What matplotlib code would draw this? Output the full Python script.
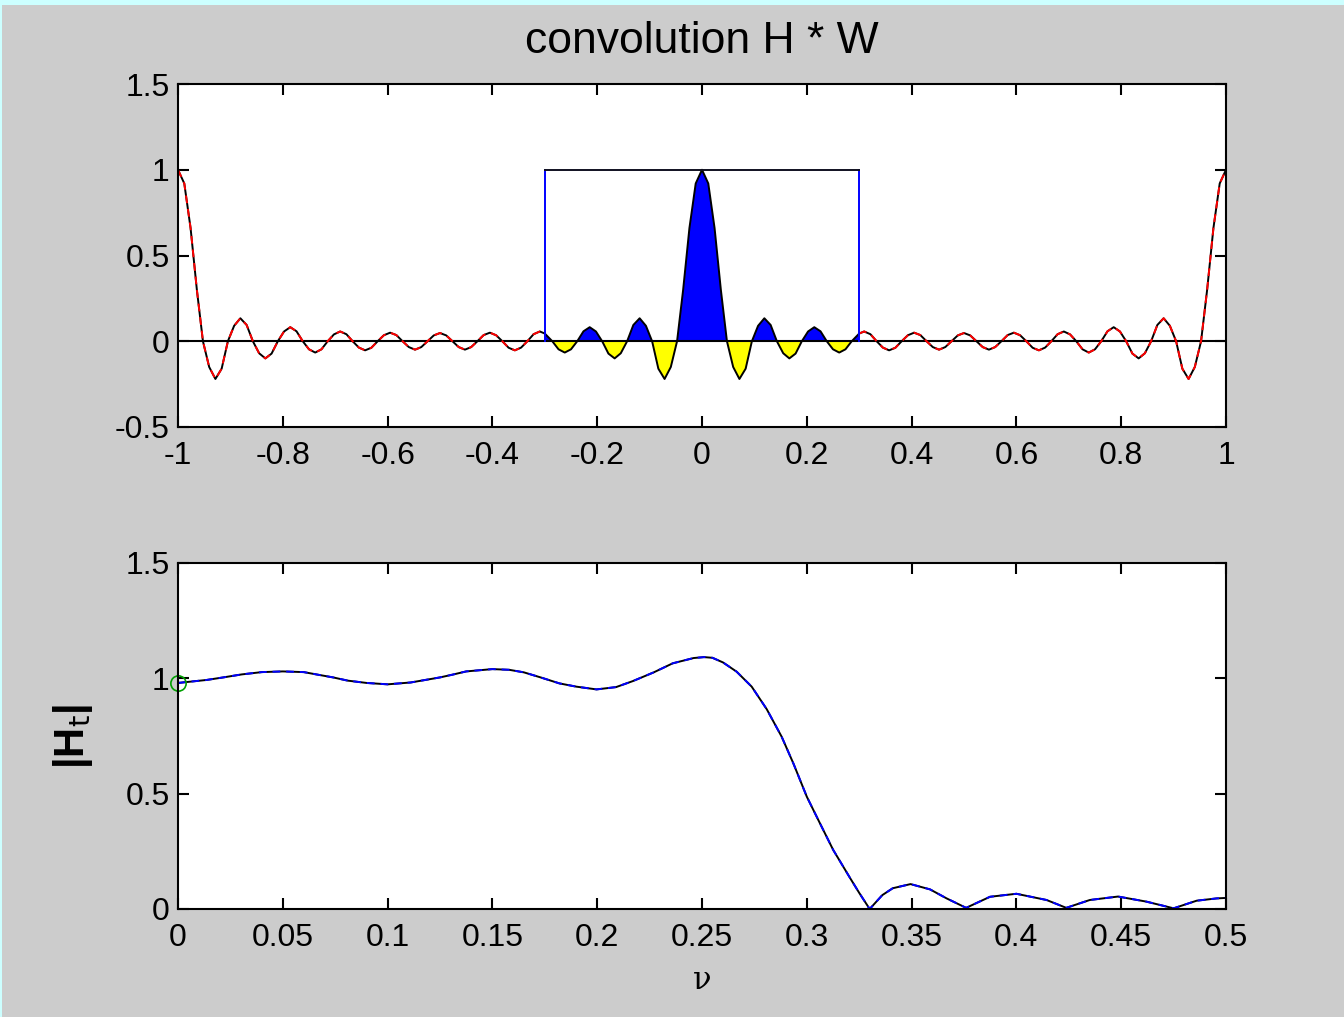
import numpy as np
import matplotlib
matplotlib.use("Agg")
import matplotlib.pyplot as plt
from matplotlib.patches import Rectangle

# kernel, x >= 0 half (the picture is symmetric about 0)
kx_half = [0.0, 0.012, 0.024, 0.036, 0.0476,
           0.0595, 0.0714, 0.0833, 0.0952,
           0.107, 0.119, 0.131, 0.1429,
           0.155, 0.1667, 0.1786, 0.1905,
           0.2024, 0.2143, 0.2262, 0.2381,
           0.25, 0.2619, 0.2738, 0.2857,
           0.3, 0.3095, 0.3214, 0.3333,
           0.3452, 0.3571, 0.369, 0.381,
           0.3929, 0.4048, 0.4167, 0.4286,
           0.4405, 0.4524, 0.4643, 0.4762,
           0.4881, 0.5, 0.5119, 0.5238,
           0.5357, 0.5476, 0.5595, 0.5714,
           0.5833, 0.5952, 0.6071, 0.619,
           0.631, 0.6429, 0.6548, 0.6667,
           0.6786, 0.6905, 0.7024, 0.7143,
           0.7262, 0.7381, 0.75, 0.7619,
           0.7738, 0.7857, 0.7976, 0.8095,
           0.8214, 0.8333, 0.8452, 0.8571,
           0.869, 0.881, 0.8929, 0.9048,
           0.9167, 0.9286, 0.9405, 0.9524,
           0.964, 0.976, 0.988, 1.0]
ky_half = [1.0, 0.92, 0.66, 0.30, 0.0,
           -0.15, -0.22, -0.16, 0.0,
           0.09, 0.134, 0.095, 0.0,
           -0.07, -0.10, -0.072, 0.0,
           0.057, 0.082, 0.058, 0.0,
           -0.047, -0.066, -0.047, 0.0,
           0.045, 0.057, 0.041, 0.0,
           -0.037, -0.053, -0.038, 0.0,
           0.035, 0.05, 0.036, 0.0,
           -0.034, -0.049, -0.034, 0.0,
           0.034, 0.048, 0.034, 0.0,
           -0.034, -0.049, -0.034, 0.0,
           0.036, 0.05, 0.035, 0.0,
           -0.038, -0.053, -0.037, 0.0,
           0.041, 0.057, 0.04, 0.0,
           -0.047, -0.066, -0.047, 0.0,
           0.058, 0.082, 0.057, 0.0,
           -0.072, -0.10, -0.07, 0.0,
           0.095, 0.134, 0.09, 0.0,
           -0.16, -0.22, -0.15, 0.0,
           0.30, 0.66, 0.92, 1.0]

# window (ideal lowpass) edge and height
win_edge = 0.3
win_height = 1.0

# |H_t|
nu = [0.0, 0.0137, 0.0216, 0.0304, 0.040, 0.05, 0.060, 0.066, 0.074, 0.081,
      0.09, 0.1, 0.111, 0.118, 0.125, 0.131, 0.1375, 0.15, 0.158, 0.165,
      0.173, 0.182, 0.19, 0.1997, 0.209, 0.217, 0.227, 0.236, 0.246, 0.251,
      0.255, 0.26, 0.2665, 0.2737, 0.2809, 0.288, 0.2936, 0.30, 0.3063, 0.3126,
      0.3206, 0.325, 0.330, 0.336, 0.341, 0.3495, 0.3588, 0.3667, 0.376, 0.3874,
      0.4, 0.4144, 0.4238, 0.435, 0.4485, 0.462, 0.475, 0.486, 0.4956, 0.5]
Ht = [0.98, 0.993, 1.004, 1.017, 1.027, 1.03, 1.027, 1.017, 1.004, 0.99,
      0.98, 0.974, 0.982, 0.993, 1.004, 1.016, 1.03, 1.04, 1.037, 1.026,
      1.004, 0.978, 0.964, 0.952, 0.962, 0.988, 1.026, 1.065, 1.088, 1.092,
      1.089, 1.069, 1.029, 0.964, 0.866, 0.747, 0.631, 0.487, 0.371, 0.256,
      0.135, 0.07, 0.0, 0.06, 0.09, 0.108, 0.085, 0.046, 0.005, 0.053,
      0.066, 0.039, 0.005, 0.039, 0.054, 0.032, 0.003, 0.036, 0.046, 0.048]

top_xticks = [-1, -0.8, -0.6, -0.4, -0.2, 0, 0.2, 0.4, 0.6, 0.8, 1]
top_yticks = [-0.5, 0, 0.5, 1, 1.5]
bot_xticks = [0, 0.05, 0.1, 0.15, 0.2, 0.25, 0.3, 0.35, 0.4, 0.45, 0.5]
bot_yticks = [0, 0.5, 1, 1.5]

kx = np.concatenate([-np.array(kx_half[:0:-1]), kx_half])
ky = np.concatenate([ky_half[:0:-1], ky_half])

plt.rcParams['font.family'] = ['Liberation Sans', 'DejaVu Sans']

fig = plt.figure(figsize=(13.44, 10.17), dpi=100, facecolor='#ccffff')
fig.patches.append(Rectangle((2 / 1344, 0), 1, 1 - 5 / 1017, transform=fig.transFigure,
                             facecolor='#cccccc', edgecolor='none', zorder=-10))

ax1 = fig.add_axes([178 / 1344, 1 - 427 / 1017, 1048 / 1344, 343 / 1017])
ax2 = fig.add_axes([178 / 1344, 1 - 909 / 1017, 1048 / 1344, 346 / 1017])

# top: kernel with the part inside the window filled
inside = np.abs(kx) <= win_edge
ax1.fill_between(kx, ky, 0, where=inside & (ky >= 0), interpolate=True,
                 color='#0000ff', linewidth=0)
ax1.fill_between(kx, ky, 0, where=inside & (ky <= 0), interpolate=True,
                 color='#ffff00', linewidth=0)
ax1.axhline(0, color='black', linewidth=1.5)
ax1.plot(kx, ky, color='black', linewidth=1.4)
outside = np.where(np.abs(kx) >= win_edge, ky, np.nan)
ax1.plot(kx, outside, color='#ff0000', linewidth=1.4, dashes=(4, 3))
ax1.plot([-win_edge, -win_edge], [0, win_height], color='#0000ff', linewidth=1.4)
ax1.plot([win_edge, win_edge], [0, win_height], color='#0000ff', linewidth=1.4)
ax1.plot([-win_edge, win_edge], [win_height, win_height], color='#101020', linewidth=1.4)

ax1.set_xlim(-1, 1)
ax1.set_ylim(-0.5, 1.5)
ax1.set_xticks(top_xticks)
ax1.set_xticklabels(['%g' % t for t in top_xticks])
ax1.set_yticks(top_yticks)
ax1.set_yticklabels(['%g' % t for t in top_yticks])
ax1.set_title('convolution H * W', fontsize=32, pad=22)

# bottom: resulting response
ax2.plot(nu, Ht, color='black', linewidth=1.4)
ax2.plot(nu, Ht, color='#0000ff', linewidth=1.4, dashes=(4, 3))
ax2.plot(nu[0], Ht[0], 'o', markerfacecolor='none', markeredgecolor='#00a000',
         markersize=11, markeredgewidth=1.2, clip_on=False)
ax2.set_xlim(0, 0.5)
ax2.set_ylim(0, 1.5)
ax2.set_xticks(bot_xticks)
ax2.set_xticklabels(['%g' % t for t in bot_xticks])
ax2.set_yticks(bot_yticks)
ax2.set_yticklabels(['%g' % t for t in bot_yticks])
ax2.set_xlabel('ν', fontsize=22, family='DejaVu Serif', labelpad=9)
ax2.set_ylabel(r'|H$_\mathrm{t}$|', fontsize=30, fontweight='bold', labelpad=22)

for ax in (ax1, ax2):
    ax.set_facecolor('white')
    ax.tick_params(direction='in', length=8, width=1.5, top=True, right=True,
                   labelsize=23, pad=10)
    ax.tick_params(axis='y', pad=6)
    for s in ax.spines.values():
        s.set_linewidth(1.5)

fig.savefig('out.png', dpi=100, facecolor=fig.get_facecolor())
